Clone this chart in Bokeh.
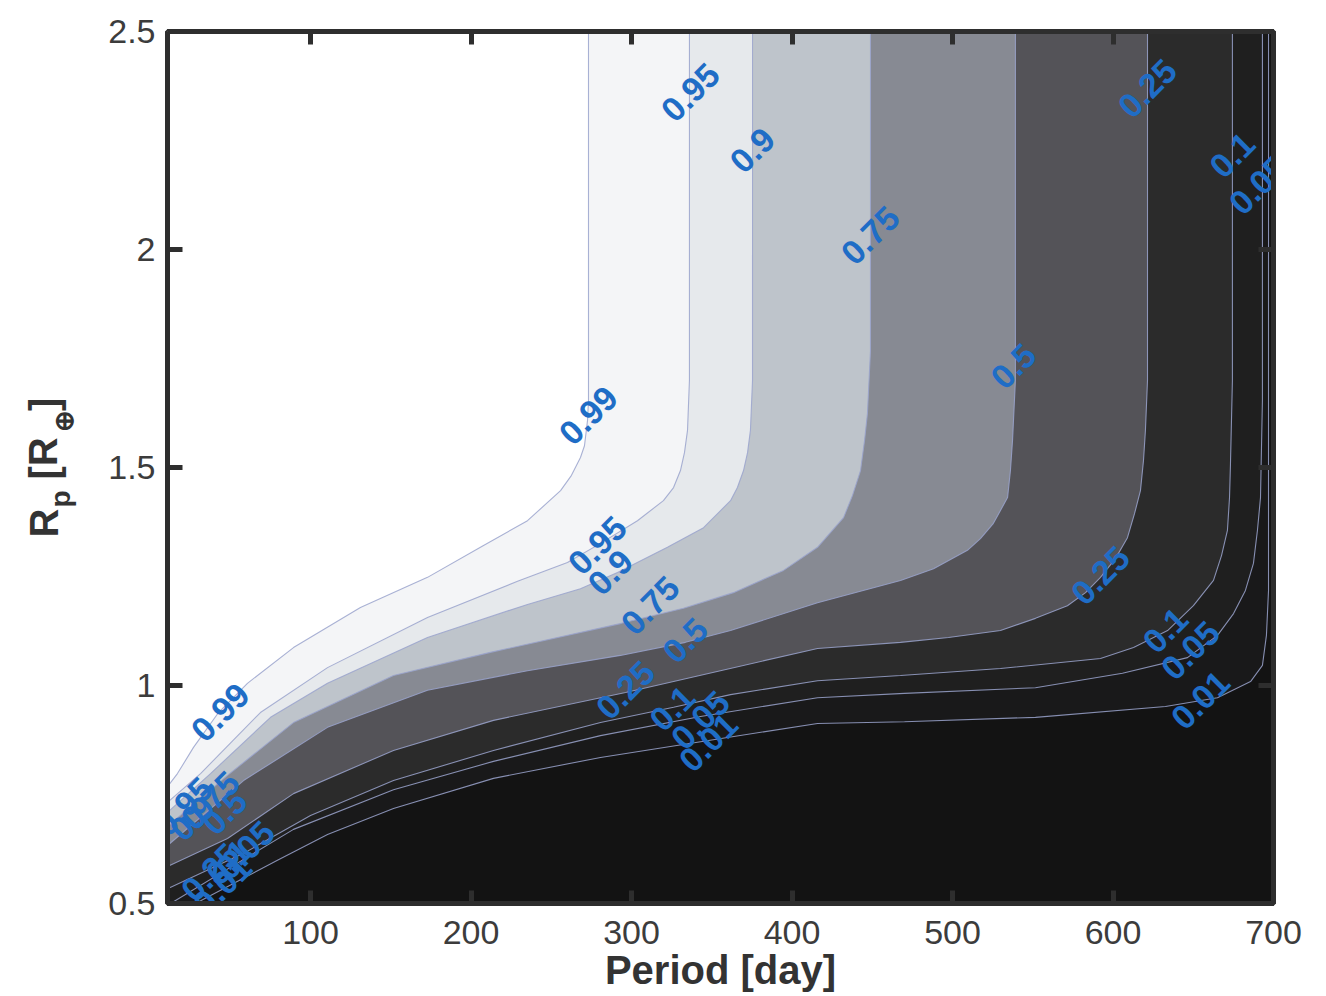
from bokeh.plotting import figure
from bokeh.layouts import row
from bokeh.models import (ColumnDataSource, FixedTicker, LinearAxis,
                          CustomJSTickFormatter, Range1d)
from bokeh.core.properties import value
from bokeh.embed import file_html
from bokeh.resources import INLINE

# ---------------- data ----------------
levels = [0.01, 0.05, 0.1, 0.25, 0.5, 0.75, 0.9, 0.95, 0.99]

c01_period = [28.3, 79.4, 110.6, 151.7, 214.0, 280.7, 348.0, 415.9, 470.1, 551.7, 632.7, 665.1, 685.7, 693.1, 695.6, 696.9, 696.9]
c01_radius = [0.5, 0.599, 0.658, 0.718, 0.787, 0.835, 0.874, 0.913, 0.917, 0.927, 0.952, 0.972, 1.009, 1.046, 1.115, 1.218, 2.5]

c05_period = [12.8, 64.5, 89.4, 151.7, 214.0, 280.7, 343.0, 415.9, 470.1, 551.7, 605.9, 646.4, 665.1, 675.1, 682.5, 687.5, 690.0, 691.9, 693.1, 693.1]
c05_radius = [0.5, 0.615, 0.670, 0.761, 0.826, 0.885, 0.929, 0.972, 0.982, 0.995, 1.028, 1.064, 1.115, 1.165, 1.218, 1.280, 1.356, 1.431, 1.654, 2.5]

c10_period = [10.9, 58.3, 100.0, 151.7, 214.0, 280.7, 326.2, 361.7, 415.9, 467.6, 529.9, 592.2, 612.8, 634.0, 650.1, 662.6, 667.6, 671.3, 672.6, 673.2, 674.4, 674.4]
c10_radius = [0.534, 0.615, 0.702, 0.782, 0.851, 0.915, 0.950, 0.979, 1.011, 1.023, 1.039, 1.062, 1.087, 1.126, 1.183, 1.241, 1.298, 1.356, 1.431, 1.509, 1.700, 2.5]

c25_period = [10.9, 48.3, 89.4, 151.7, 214.0, 296.3, 355.4, 415.9, 467.6, 497.5, 529.9, 551.7, 571.6, 582.9, 592.2, 601.5, 609.0, 613.4, 617.1, 619.0, 620.2, 621.5, 621.5]
c25_radius = [0.585, 0.649, 0.752, 0.851, 0.920, 0.984, 1.034, 1.085, 1.099, 1.110, 1.126, 1.154, 1.183, 1.213, 1.248, 1.291, 1.339, 1.394, 1.447, 1.516, 1.585, 1.700, 2.5]

c50_period = [10.9, 58.3, 110.6, 172.9, 235.2, 293.1, 333.6, 361.7, 415.9, 467.6, 488.2, 509.3, 517.4, 525.5, 534.3, 536.1, 537.4, 539.2, 539.2]
c50_radius = [0.633, 0.782, 0.904, 0.989, 1.034, 1.069, 1.099, 1.126, 1.190, 1.241, 1.268, 1.310, 1.337, 1.372, 1.431, 1.493, 1.562, 1.700, 2.5]

c75_period = [10.9, 48.3, 89.4, 151.7, 212.1, 293.1, 332.4, 363.5, 394.7, 415.9, 432.1, 437.7, 442.7, 445.2, 447.0, 448.9, 448.9]
c75_radius = [0.677, 0.794, 0.915, 1.023, 1.076, 1.142, 1.177, 1.213, 1.264, 1.317, 1.385, 1.436, 1.493, 1.562, 1.624, 1.768, 2.5]

c90_period = [10.9, 37.7, 75.1, 110.6, 172.9, 235.2, 268.2, 291.3, 322.4, 344.9, 361.7, 366.0, 369.8, 372.3, 374.1, 375.4, 375.4]
c90_radius = [0.709, 0.798, 0.927, 1.005, 1.110, 1.186, 1.222, 1.259, 1.317, 1.362, 1.424, 1.454, 1.493, 1.534, 1.585, 1.700, 2.5]

c95_period = [10.9, 31.5, 68.8, 110.6, 172.9, 229.0, 260.1, 280.7, 303.7, 319.9, 326.2, 330.5, 333.0, 334.9, 336.1, 336.1]
c95_radius = [0.732, 0.798, 0.938, 1.041, 1.156, 1.239, 1.282, 1.326, 1.378, 1.424, 1.454, 1.493, 1.534, 1.585, 1.700, 2.5]

c99_period = [10.9, 17.1, 27.1, 42.7, 60.7, 89.4, 131.1, 172.9, 207.8, 235.2, 255.8, 262.6, 268.2, 270.7, 272.6, 273.2, 273.2]
c99_radius = [0.768, 0.798, 0.858, 0.938, 1.005, 1.087, 1.179, 1.248, 1.321, 1.378, 1.447, 1.482, 1.523, 1.550, 1.608, 1.654, 2.5]

label_text = ["0.95", "0.9", "0.75", "0.5", "0.25", "0.1", "0.05",
              "0.99", "0.95", "0.9", "0.75", "0.5", "0.25", "0.1", "0.05", "0.01",
              "0.25", "0.1", "0.05", "0.01",
              "0.99",
              "0.95", "0.9", "0.75", "0.5", "0.25", "0.1", "0.05", "0.01"]
label_period = [336.8, 375.4, 448.9, 538.0, 621.5, 674.4, 690.6,
                273.2, 278.8, 286.9, 311.8, 333.6, 296.3, 325.5, 343.0, 348.0,
                592.2, 632.7, 648.3, 654.5,
                43.9,
                20.9, 26.5, 37.7, 46.4, 37.7, 48.9, 59.5, 45.2]
label_radius = [2.360, 2.227, 2.032, 1.732, 2.369, 2.216, 2.147,
                1.619, 1.321, 1.259, 1.183, 1.103, 0.989, 0.947, 0.920, 0.869,
                1.252, 1.126, 1.080, 0.966,
                0.938,
                0.722, 0.695, 0.736, 0.709, 0.571, 0.594, 0.622, 0.541]

x_ticks = [100, 200, 300, 400, 500, 600, 700]
y_ticks = [0.5, 1.0, 1.5, 2.0, 2.5]
x_label = "Period [day]"
# y label "R_p [R_⊕]" written as pieces (main text and subscripts)
y_label_parts = ["R", "p", "[R", "\u2295", "]"]

# colour of each band: below 0.01, 0.01-0.05, ..., above 0.99
band_colors = ["#131313", "#19191a", "#1f1f1f", "#2b2b2b", "#545358",
               "#878a93", "#bec4cb", "#e6e9ec", "#f4f5f7", "#ffffff"]

# ---------------- main figure ----------------
X0, X1, Y0, Y1 = 10.9, 700, 0.5, 2.5
LEFT_W = 100
p = figure(width=1326 - LEFT_W, height=996, x_range=Range1d(X0, X1), y_range=Range1d(Y0, Y1),
           output_backend="svg", toolbar_location=None,
           min_border_left=167 - LEFT_W, min_border_right=53, min_border_top=31, min_border_bottom=93,
           background_fill_color=band_colors[0], border_fill_color="white",
           outline_line_color="#2e2e2e", outline_line_width=5)
p.grid.visible = False

curves_p = [c01_period, c05_period, c10_period, c25_period, c50_period,
            c75_period, c90_period, c95_period, c99_period]
curves_r = [c01_radius, c05_radius, c10_radius, c25_radius, c50_radius,
            c75_radius, c90_radius, c95_radius, c99_radius]

# filled regions (values above each level lie to the upper left of its curve)
xs, ys = [], []
for cp, cr in zip(curves_p, curves_r):
    xs.append(list(cp) + [X0 - 30, X0 - 30])
    ys.append(list(cr) + [Y1 + 0.2, Y0 - 0.2])
fill_src = ColumnDataSource(dict(xs=xs, ys=ys, color=band_colors[1:]))
p.patches("xs", "ys", source=fill_src, fill_color="color", line_color=None)

line_src = ColumnDataSource(dict(xs=curves_p, ys=curves_r))
p.multi_line("xs", "ys", source=line_src, line_color="#9aa3cc", line_width=1.1, line_alpha=0.85)

lab_src = ColumnDataSource(dict(x=label_period, y=label_radius, t=label_text))
p.text("x", "y", text="t", source=lab_src, angle=0.785,
       text_align="center", text_baseline="middle",
       text_font=value("Liberation Sans"), text_font_style="bold",
       text_font_size="34px", text_color="#1f6dc6")

# ---------------- axes ----------------
AX = "#2e2e2e"

def style(ax, ticks, tin, labels=True):
    ax.ticker = FixedTicker(ticks=ticks)
    ax.axis_line_color = AX
    ax.axis_line_width = 5
    ax.major_tick_line_color = AX
    ax.major_tick_line_width = 5
    ax.major_tick_in = tin
    ax.major_tick_out = 0
    ax.minor_tick_line_color = None
    ax.major_label_text_font = "Liberation Sans"
    ax.major_label_text_font_size = "34px"
    ax.major_label_text_color = "#3c3c3c"
    if not labels:
        ax.formatter = CustomJSTickFormatter(code="return '';")

style(p.xaxis[0], x_ticks, 13)
p.xaxis[0].major_label_standoff = 17
p.xaxis[0].axis_label = x_label
p.xaxis[0].axis_label_text_font = "Liberation Sans"
p.xaxis[0].axis_label_text_font_style = "bold"
p.xaxis[0].axis_label_text_font_size = "40px"
p.xaxis[0].axis_label_text_color = "#333333"
p.xaxis[0].axis_label_standoff = 1

style(p.yaxis[0], y_ticks, 15)
p.yaxis[0].major_label_standoff = 12
p.yaxis[0].formatter = CustomJSTickFormatter(code="return String(Math.round(tick*10)/10);")

top = LinearAxis()
style(top, x_ticks, 13, labels=False)
p.add_layout(top, "above")
right = LinearAxis()
style(right, y_ticks, 15, labels=False)
p.add_layout(right, "right")

# ---------------- strip holding the y-axis title (pixel units) ----------------
q = figure(width=LEFT_W, height=996, x_range=Range1d(0, LEFT_W), y_range=Range1d(93, 965),
           x_axis_type=None, y_axis_type=None, output_backend="svg", toolbar_location=None,
           min_border_left=0, min_border_right=0, min_border_top=31, min_border_bottom=93,
           outline_line_color=None, background_fill_color="white",
           border_fill_color="white")
q.grid.visible = False
ylab_src = ColumnDataSource(dict(
    x=[43, 60, 43, 63, 43],
    y=[459, 489, 517, 564, 585.5],
    t=y_label_parts,
    size=["40px", "28px", "40px", "26px", "40px"],
))
q.text("x", "y", text="t", source=ylab_src, angle=1.5708,
       text_align="left", text_baseline="alphabetic",
       text_font=value("Liberation Sans"), text_font_style="bold",
       text_font_size="size", text_color="#333333")

layout = row(q, p, spacing=0)
open("out.html", "w").write(file_html(layout, INLINE))
